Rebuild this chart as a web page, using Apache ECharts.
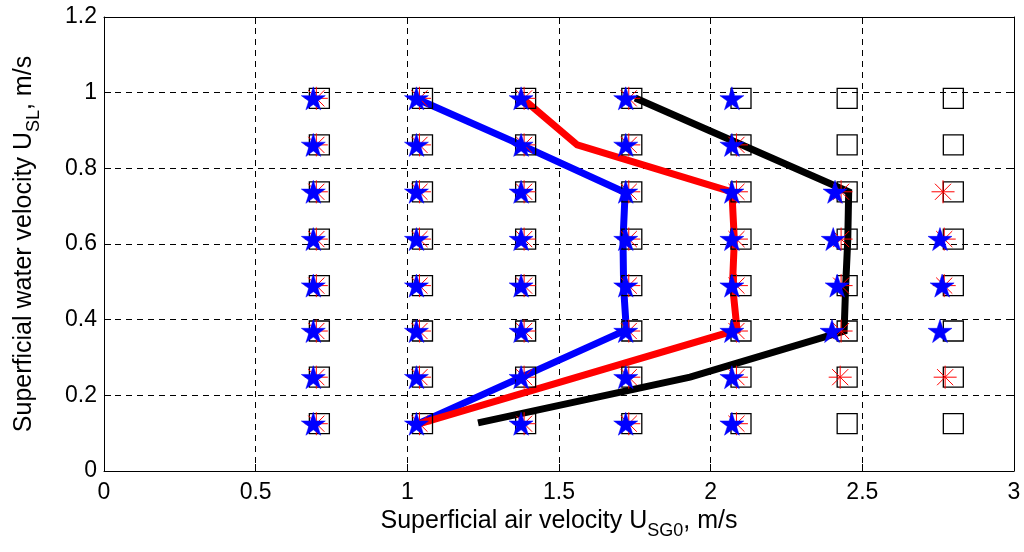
<!DOCTYPE html>
<html>
<head>
<meta charset="utf-8">
<script src="https://cdn.jsdelivr.net/npm/echarts@6/dist/echarts.min.js"></script>
<style>
  html, body { margin: 0; padding: 0; background: #fff; }
  #chart { width: 1024px; height: 552px; }
</style>
</head>
<body>
<div id="chart"></div>
<script>
// axis ticks
const xTicks = [0, 0.5, 1, 1.5, 2, 2.5, 3]
const yTicks = [0, 0.2, 0.4, 0.6, 0.8, 1, 1.2]

// measurement grid (open squares)
const squareCols = [0.71, 1.05, 1.39, 1.74, 2.10, 2.45, 2.80]
const squareRows = [0.985, 0.862, 0.738, 0.613, 0.49, 0.37, 0.248, 0.125]

// red asterisks
const asteriskPoints = [
  [0.70, 0.985], [0.70, 0.862], [0.70, 0.738], [0.70, 0.613], [0.70, 0.49], [0.70, 0.37], [0.70, 0.248], [0.70, 0.125],
  [1.04, 0.985], [1.04, 0.862], [1.04, 0.738], [1.04, 0.613], [1.04, 0.49], [1.04, 0.37], [1.04, 0.248], [1.04, 0.125],
  [1.385, 0.985], [1.385, 0.862], [1.385, 0.738], [1.385, 0.613], [1.385, 0.49], [1.385, 0.37], [1.385, 0.248], [1.385, 0.125],
  [1.73, 0.985], [1.73, 0.862], [1.73, 0.738], [1.73, 0.613], [1.73, 0.49], [1.73, 0.37], [1.73, 0.248], [1.73, 0.125],
  [2.085, 0.862], [2.085, 0.738], [2.085, 0.613], [2.085, 0.49], [2.085, 0.37], [2.085, 0.248], [2.085, 0.125],
  [2.43, 0.738], [2.43, 0.613], [2.43, 0.49], [2.43, 0.37], [2.427, 0.248],
  [2.766, 0.738], [2.77, 0.613], [2.77, 0.49], [2.773, 0.248]
]

// blue stars
const starPoints = [
  [0.69, 0.985], [0.69, 0.862], [0.69, 0.738], [0.69, 0.613], [0.69, 0.49], [0.69, 0.37], [0.69, 0.248], [0.69, 0.125],
  [1.03, 0.985], [1.03, 0.862], [1.03, 0.738], [1.03, 0.613], [1.03, 0.49], [1.03, 0.37], [1.03, 0.248], [1.03, 0.125],
  [1.375, 0.985], [1.375, 0.862], [1.375, 0.738], [1.375, 0.613], [1.375, 0.49], [1.375, 0.37], [1.375, 0.248], [1.375, 0.125],
  [1.72, 0.985], [1.72, 0.862], [1.72, 0.738], [1.72, 0.613], [1.72, 0.49], [1.72, 0.37], [1.72, 0.248], [1.72, 0.125],
  [2.07, 0.985], [2.07, 0.862], [2.07, 0.738], [2.07, 0.613], [2.07, 0.49], [2.07, 0.37], [2.07, 0.248], [2.07, 0.125],
  [2.41, 0.738], [2.404, 0.613], [2.417, 0.49], [2.40, 0.37],
  [2.756, 0.613], [2.763, 0.49], [2.756, 0.37]
]

// transition boundaries
const blueLine = [[1.025, 0.986], [1.38, 0.86], [1.718, 0.736], [1.711, 0.61], [1.713, 0.486], [1.722, 0.373], [1.032, 0.124]]
const redLine = [[1.378, 0.986], [1.56, 0.862], [2.07, 0.738], [2.078, 0.611], [2.072, 0.492], [2.087, 0.373], [1.035, 0.124]]
const blackLine = [[1.751, 0.986], [2.455, 0.738], [2.452, 0.611], [2.445, 0.49], [2.44, 0.37], [1.932, 0.248], [1.233, 0.127]]

const font = "'Liberation Sans', Arial, sans-serif"
const starPath = 'path://M50,0L61.23,34.55L97.55,34.55L68.17,55.9L79.39,90.45L50,69.1L20.61,90.45L31.83,55.9L2.45,34.55L38.77,34.55Z'
const asteriskPath = 'path://M0,50L100,50M50,0L50,100M15,15L85,85M85,15L15,85'

const squarePoints = squareCols.flatMap((x) => squareRows.map((y) => [x, y]))

const chart = echarts.init(document.getElementById('chart'), null, { renderer: 'canvas' })

function frameAxis(position, isX) {
  const base = {
    type: 'value',
    position,
    axisLine: { show: true, onZero: false, lineStyle: { color: '#000', width: 1 } },
    axisTick: { show: true, inside: true, length: 7, lineStyle: { color: '#000' } },
    axisLabel: { show: false },
    splitLine: { show: false }
  }
  if (isX) return { ...base, min: xTicks[0], max: xTicks[xTicks.length - 1], interval: 0.5 }
  return { ...base, min: yTicks[0], max: yTicks[yTicks.length - 1], interval: 0.2 }
}

const labelRich = {
  a: { fontSize: 25, fontFamily: font, color: '#000', lineHeight: 27, verticalAlign: 'top' },
  sub: { fontSize: 18, fontFamily: font, color: '#000', lineHeight: 18, padding: [13, 0, 0, 0], verticalAlign: 'top' }
}

chart.setOption({
  animation: false,
  backgroundColor: '#fff',
  grid: { left: 104, right: 10, top: 17, bottom: 81, containLabel: false },
  xAxis: [
    {
      type: 'value',
      position: 'bottom',
      min: xTicks[0],
      max: xTicks[xTicks.length - 1],
      interval: 0.5,
      axisLine: { show: true, onZero: false, lineStyle: { color: '#000', width: 1 } },
      axisTick: { show: true, inside: true, length: 7, lineStyle: { color: '#000' } },
      axisLabel: { color: '#000', fontSize: 23, fontFamily: font, margin: 10 },
      splitLine: { show: true, lineStyle: { color: '#000', width: 1, type: [6, 5] } },
      name: '{a|Superficial air velocity U}{sub|SG0}{a|, m/s}',
      nameLocation: 'middle',
      nameGap: 37,
      nameTextStyle: { rich: labelRich }
    },
    frameAxis('top', true)
  ],
  yAxis: [
    {
      type: 'value',
      position: 'left',
      min: yTicks[0],
      max: yTicks[yTicks.length - 1],
      interval: 0.2,
      axisLine: { show: true, onZero: false, lineStyle: { color: '#000', width: 1 } },
      axisTick: { show: true, inside: true, length: 7, lineStyle: { color: '#000' } },
      axisLabel: { color: '#000', fontSize: 23, fontFamily: font, margin: 7 },
      splitLine: { show: true, lineStyle: { color: '#000', width: 1, type: [6, 5] } },
      name: '{a|Superficial water velocity U}{sub|SL}{a|, m/s}',
      nameLocation: 'middle',
      nameRotate: 90,
      nameGap: 65,
      nameTextStyle: { rich: labelRich }
    },
    frameAxis('right', false)
  ],
  series: [
    {
      type: 'line',
      data: blueLine,
      showSymbol: false,
      lineStyle: { color: '#0000ff', width: 7, join: 'miter' },
      z: 2
    },
    {
      type: 'line',
      data: redLine,
      showSymbol: false,
      lineStyle: { color: '#ff0000', width: 7, join: 'miter' },
      z: 2
    },
    {
      type: 'line',
      data: blackLine,
      showSymbol: false,
      lineStyle: { color: '#000000', width: 7, join: 'miter' },
      z: 2
    },
    {
      type: 'scatter',
      data: squarePoints,
      symbol: 'rect',
      symbolSize: 20,
      itemStyle: { color: 'rgba(0,0,0,0)', borderColor: '#000', borderWidth: 1.3, opacity: 1 },
      z: 3
    },
    {
      type: 'scatter',
      data: asteriskPoints,
      symbol: asteriskPath,
      symbolSize: 23,
      itemStyle: { color: 'rgba(0,0,0,0)', borderColor: '#ff0000', borderWidth: 1, opacity: 1 },
      z: 4
    },
    {
      type: 'scatter',
      data: starPoints,
      symbol: starPath,
      symbolSize: [24, 23],
      itemStyle: { color: '#0000ff', borderColor: '#0000ff', borderWidth: 0.5, opacity: 1 },
      z: 5
    }
  ]
})
</script>
</body>
</html>
